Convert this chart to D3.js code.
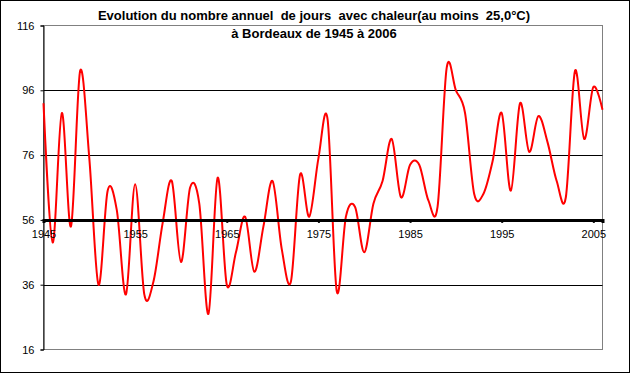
<!DOCTYPE html>
<meta charset="utf-8">
<style>
html, body {
  margin: 0;
  padding: 0;
  background: #fff;
}
svg text {
  font-family: "Liberation Sans", Arial, sans-serif;
}
.title {
  font-size: 13px;
  font-weight: bold;
  white-space: pre;
}
.axis text {
  font-size: 11px;
  fill: #000;
}
</style>
<div id="chart"></div>
<script src="https://cdn.jsdelivr.net/npm/d3@7"></script>
<script>

// data: yearly number of days with max >= 25,0°C, Bordeaux
var years = d3.range(1945, 2007);
var days = [92, 49, 89, 54, 102, 75, 36, 65, 59, 33,
            67, 33, 37, 55, 68, 43, 66, 61, 27, 69,
            36, 46, 57, 40, 54, 68, 47, 37, 70, 57,
            75, 87, 34, 57, 60, 46, 61, 68, 81, 63,
            73, 73, 62, 60, 103, 96, 89, 64, 64, 74,
            89, 65, 92, 77, 88, 80, 68, 63, 102, 81,
            97, 90];
var yTicks = [16, 36, 56, 76, 96, 116];
var xTicks = [1945, 1955, 1965, 1975, 1985, 1995, 2005];
var gridValues = [36, 76, 96];
var axisCross = 56;
var titleLines = ["Evolution du nombre annuel  de jours  avec chaleur(au moins  25,0°C)",
                  "à Bordeaux de 1945 à 2006"];

var width = 631, height = 374;
// plot area box (window.top is read-only, so no "top" name here)
var plotL = 43.5, plotR = 602.5, plotT = 25.5, plotB = 349.5;

var svg = d3.select("#chart").append("svg")
    .attr("width", width)
    .attr("height", height);

// outer frame
svg.append("rect")
    .attr("x", 0.5).attr("y", 0.5)
    .attr("width", 629).attr("height", 372)
    .attr("fill", "#fff")
    .attr("stroke", "#000");

var x = d3.scaleLinear().domain([1945, 2006]).range([plotL, plotR]);
var y = d3.scaleLinear().domain([16, 116]).range([plotB, plotT]);

// plot area border (grey)
svg.append("rect")
    .attr("x", plotL).attr("y", plotT)
    .attr("width", plotR - plotL).attr("height", plotB - plotT)
    .attr("fill", "none")
    .attr("stroke", "#808080");

// gridlines
svg.append("g").selectAll("line")
    .data(gridValues)
    .enter().append("line")
    .attr("x1", plotL).attr("x2", plotR)
    .attr("y1", function(d) { return Math.round(y(d)) + 0.5; })
    .attr("y2", function(d) { return Math.round(y(d)) + 0.5; })
    .attr("stroke", "#000");

// y axis
var yAxis = svg.append("g")
    .attr("class", "axis")
    .attr("transform", "translate(" + plotL + ",0)")
    .call(d3.axisLeft(y).tickValues(yTicks).tickSize(3).tickPadding(6));
yAxis.select(".domain").attr("stroke", "#000");
yAxis.selectAll(".tick line").attr("stroke", "#000");

// the line
var line = d3.line()
    .x(function(d, i) { return x(years[i]); })
    .y(function(d) { return y(d); })
    .curve(d3.curveCardinal.tension(0));

svg.append("path")
    .datum(days)
    .attr("fill", "none")
    .attr("stroke", "#ff0000")
    .attr("stroke-width", 2)
    .attr("stroke-linejoin", "round")
    .attr("d", line);

// x axis crossing at 56
var xAxis = svg.append("g")
    .attr("class", "axis")
    .attr("transform", "translate(0," + y(axisCross) + ")")
    .call(d3.axisBottom(x).tickValues(xTicks).tickFormat(d3.format("d")).tickSize(3).tickPadding(7));
xAxis.select(".domain").attr("stroke", "#000").attr("stroke-width", 3);
xAxis.selectAll(".tick line").attr("stroke", "#000").attr("stroke-width", 2);

// title
svg.append("g").selectAll("text")
    .data(titleLines)
    .enter().append("text")
    .attr("class", "title")
    .attr("x", 314)
    .attr("y", function(d, i) { return 20 + i * 17.5; })
    .attr("text-anchor", "middle")
    .text(function(d) { return d; });

</script>
